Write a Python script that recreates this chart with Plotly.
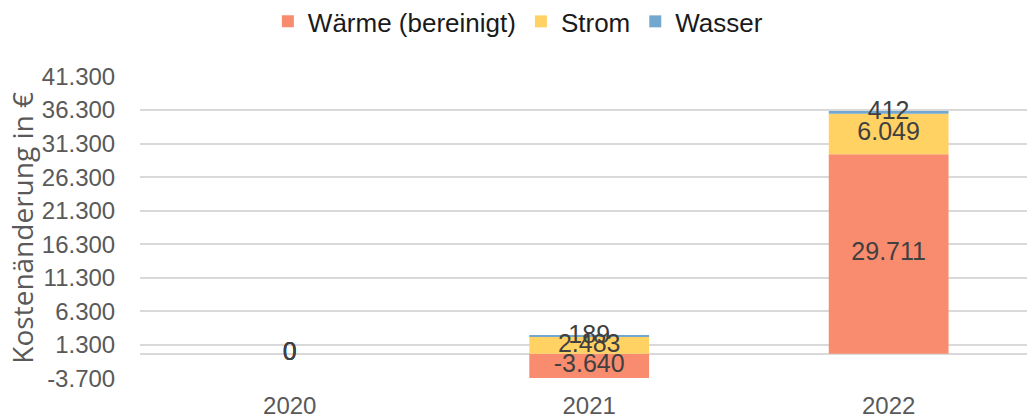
import plotly.graph_objects as go

years = ["2020", "2021", "2022"]
waerme = [0, -3640, 29711]
strom = [0, 2483, 6049]
wasser = [0, 189, 412]

series_names = ["Wärme (bereinigt)", "Strom", "Wasser"]
series_colors = ["#F98C6F", "#FFD263", "#72A8D0"]

y_tickvals = [-3700, 1300, 6300, 11300, 16300, 21300, 26300, 31300, 36300, 41300]
y_ticktext = ["-3.700", "1.300", "6.300", "11.300", "16.300", "21.300",
              "26.300", "31.300", "36.300", "41.300"]
y_title = "Kostenänderung in €"


def fmt(v):
    return f"{v:,}".replace(",", ".")


fig = go.Figure()
all_series = [waerme, strom, wasser]
for name, vals, col in zip(series_names, all_series, series_colors):
    fig.add_trace(go.Bar(x=years, y=vals, name=name, marker=dict(color=col, line=dict(width=0))))

# label positions: midpoints of the relative stack
pos_base = [0] * len(years)
neg_base = [0] * len(years)
for vals in all_series:
    ys = []
    for i, v in enumerate(vals):
        if v >= 0:
            ys.append(pos_base[i] + v / 2)
            pos_base[i] += v
        else:
            ys.append(neg_base[i] + v / 2)
            neg_base[i] += v
    fig.add_trace(go.Scatter(
        x=years, y=ys, mode="text", text=[fmt(v) for v in vals],
        textfont=dict(family="Liberation Sans, Arial", size=25, color="#404040"),
        showlegend=False, hoverinfo="skip", cliponaxis=False))

fig.add_annotation(text=y_title, xref="paper", yref="paper", x=-0.134, y=0.5,
                   xanchor="center", yanchor="middle", textangle=-90, showarrow=False,
                   font=dict(family="Open Sans", size=28, color="#595959"))

fig.update_layout(
    width=1027, height=419,
    barmode="relative", bargap=0.6,
    plot_bgcolor="white", paper_bgcolor="white",
    margin=dict(l=140, r=0, t=76, b=40, autoexpand=False),
    legend=dict(orientation="h", xref="paper", x=0.426, xanchor="center",
                yref="paper", y=1.18, yanchor="middle",
                font=dict(family="Liberation Sans, Arial", size=26, color="#1a1a1a"),
                itemwidth=30, traceorder="normal"),
    xaxis=dict(type="category", range=[-0.5, 2.462], showgrid=False, showline=False,
               automargin=False,
               tickfont=dict(family="Liberation Sans, Arial", size=24, color="#595959"),
               ticks="outside", ticklen=5, tickcolor="rgba(0,0,0,0)"),
    yaxis=dict(range=[-3780, 41380], tickvals=y_tickvals, ticktext=y_ticktext,
               automargin=False,
               showgrid=True, gridcolor="#D9D9D9", gridwidth=1.5,
               zeroline=True, zerolinecolor="#D9D9D9", zerolinewidth=1.5,
               tickfont=dict(family="Liberation Sans, Arial", size=24, color="#595959"),
               ticks="outside", ticklen=19, tickcolor="rgba(0,0,0,0)"),
)

fig.write_html("out.html", config={"displayModeBar": False},
               post_script="document.body.style.margin='0px';")
